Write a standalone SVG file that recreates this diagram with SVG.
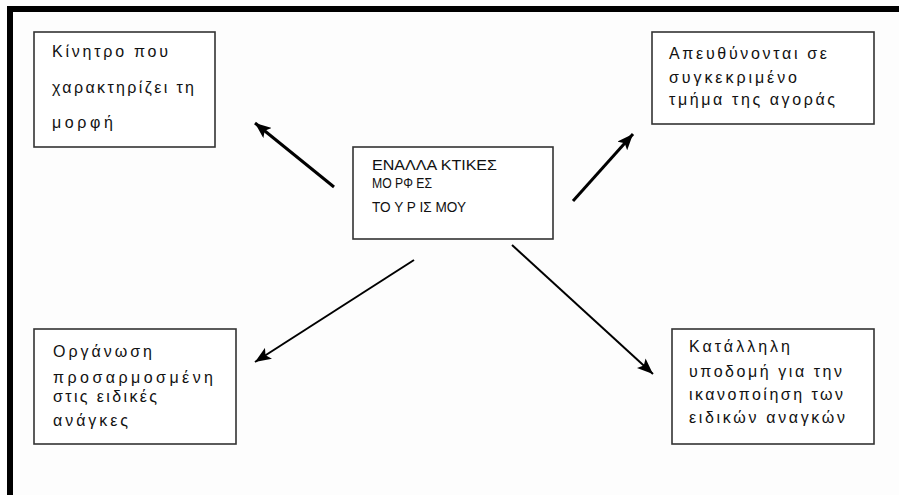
<svg xmlns="http://www.w3.org/2000/svg" width="899" height="495" viewBox="0 0 899 495">
  <style>
    .box { fill: #fff; stroke: #333; stroke-width: 1.6; }
    .t { font-family: "Liberation Sans", Arial, sans-serif; font-size: 16px; fill: #111; }
    .caps { font-size: 15.5px; }
    .thick { stroke: #000; stroke-width: 3; fill: none; marker-end: url(#head); }
    .thin { stroke: #000; stroke-width: 2; fill: none; marker-end: url(#head); }
  </style>
  <defs>
    <marker id="head" markerUnits="userSpaceOnUse" markerWidth="17" markerHeight="13" refX="16" refY="6.5" orient="auto">
      <path d="M0,0 L16,6.5 L0,13 L3.5,6.5 z" fill="#000"/>
    </marker>
  </defs>

  <!-- page background and partial frame -->
  <rect x="0" y="0" width="899" height="495" fill="#fdfdfd"/>
  <rect x="7" y="6" width="892" height="6" fill="#000"/>
  <rect x="7" y="6" width="6" height="489" fill="#000"/>

  <!-- connectors -->
  <g id="connectors">
    <line class="thick" x1="334" y1="187" x2="255" y2="123"/>
    <line class="thick" x1="573" y1="201" x2="633" y2="134"/>
    <line class="thin" x1="414" y1="260" x2="255" y2="362"/>
    <line class="thin" x1="512" y1="245" x2="653" y2="374"/>
  </g>

  <g id="center">
    <rect class="box" x="353" y="147" width="200" height="92"/>
    <text class="t caps" x="372" y="170" textLength="125" lengthAdjust="spacingAndGlyphs">ΕΝΑΛΛΑ ΚΤΙΚΕΣ</text>
    <text class="t caps" x="372" y="188" textLength="60" lengthAdjust="spacingAndGlyphs">ΜΟ ΡΦ ΕΣ</text>
    <text class="t caps" x="372" y="212" textLength="94" lengthAdjust="spacingAndGlyphs">ΤΟ Υ Ρ ΙΣ ΜΟΥ</text>
  </g>

  <g id="motive">
    <rect class="box" x="34" y="32" width="181" height="115"/>
    <text class="t" x="52" y="57" textLength="116" lengthAdjust="spacing">Κίνητρο που</text>
    <text class="t" x="52" y="93" textLength="142" lengthAdjust="spacing">χαρακτηρίζει τη</text>
    <text class="t" x="52" y="128" textLength="61" lengthAdjust="spacing">μορφή</text>
  </g>

  <g id="market">
    <rect class="box" x="652" y="32" width="222" height="92"/>
    <text class="t" x="669" y="59" textLength="158" lengthAdjust="spacing">Απευθύνονται σε</text>
    <text class="t" x="669" y="83" textLength="128" lengthAdjust="spacing">συγκεκριμένο</text>
    <text class="t" x="669" y="105" textLength="166" lengthAdjust="spacing">τμήμα της αγοράς</text>
  </g>

  <g id="organisation">
    <rect class="box" x="34" y="329" width="202" height="115"/>
    <text class="t" x="53" y="357" textLength="99" lengthAdjust="spacing">Οργάνωση</text>
    <text class="t" x="53" y="383" textLength="160" lengthAdjust="spacing">προσαρμοσμένη</text>
    <text class="t" x="53" y="402" textLength="104" lengthAdjust="spacing">στις ειδικές</text>
    <text class="t" x="53" y="426" textLength="75" lengthAdjust="spacing">ανάγκες</text>
  </g>

  <g id="infrastructure">
    <rect class="box" x="672" y="329" width="202" height="115"/>
    <text class="t" x="689" y="352" textLength="101" lengthAdjust="spacing">Κατάλληλη</text>
    <text class="t" x="689" y="377" textLength="153" lengthAdjust="spacing">υποδομή για την</text>
    <text class="t" x="689" y="400" textLength="154" lengthAdjust="spacing">ικανοποίηση των</text>
    <text class="t" x="689" y="423" textLength="156" lengthAdjust="spacing">ειδικών αναγκών</text>
  </g>
</svg>
